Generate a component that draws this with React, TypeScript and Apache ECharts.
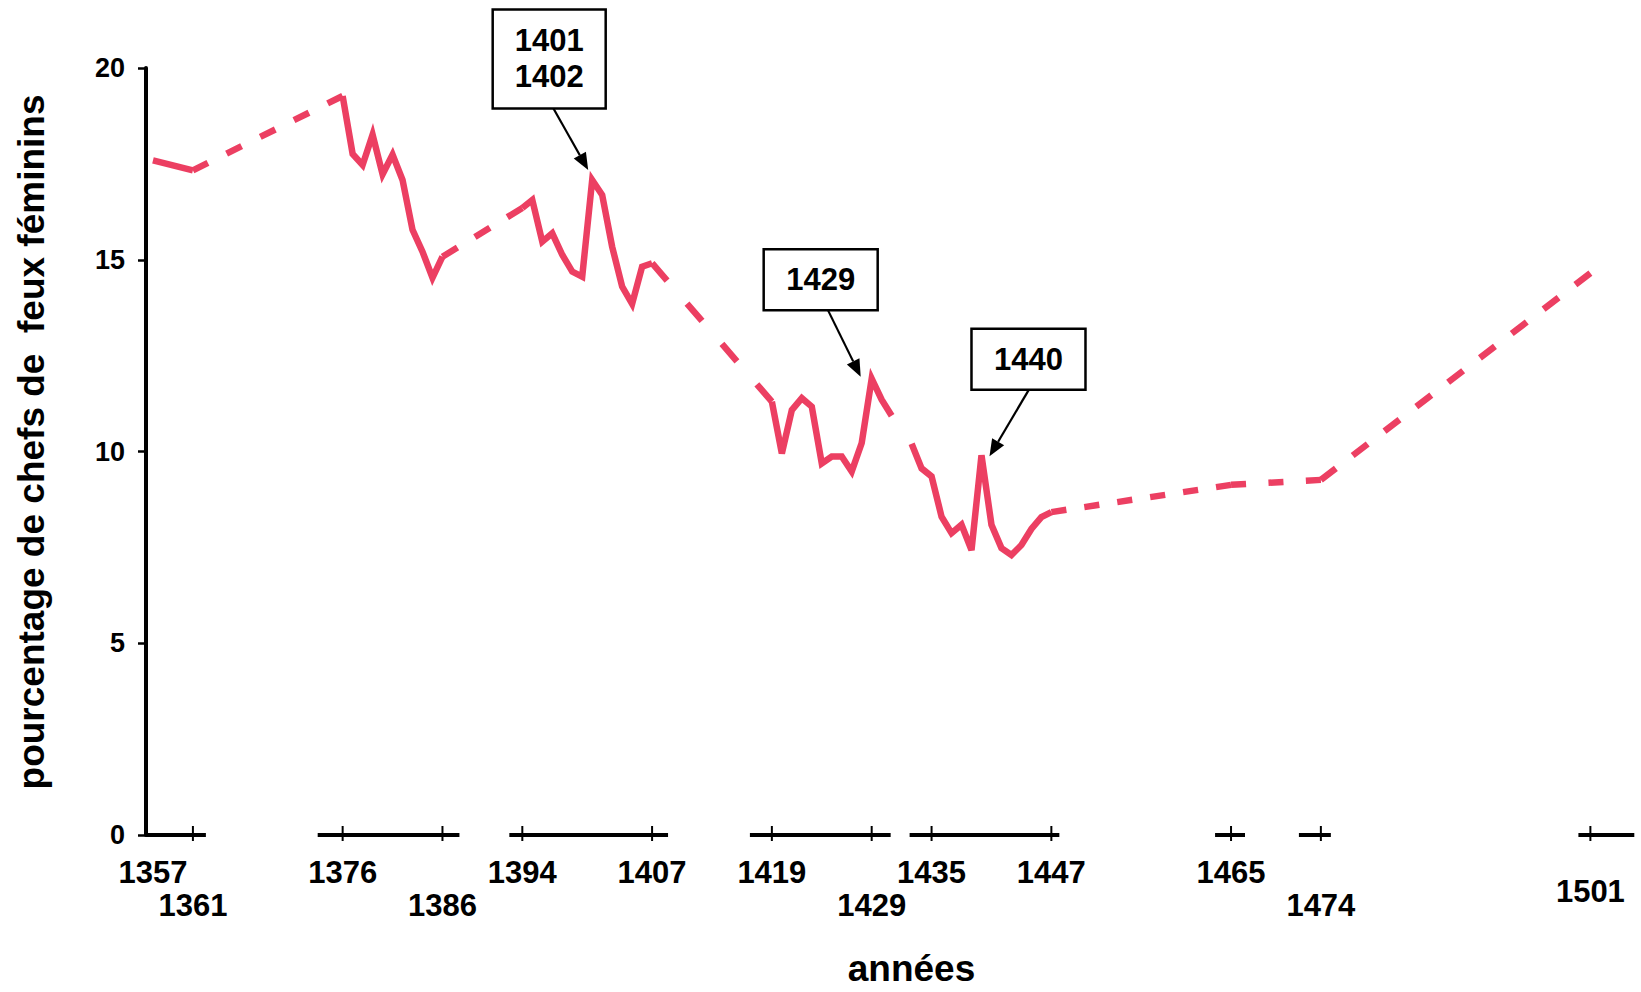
import React, { useEffect, useRef } from "react";
import * as echarts from "echarts";

// ---- data ----
const years1 = [1357, 1361];
const pct1 = [17.59, 17.33];
const years2 = [1376, 1377, 1378, 1379, 1380, 1381, 1382, 1383, 1384, 1385, 1386];
const pct2 = [19.27, 17.76, 17.47, 18.26, 17.23, 17.74, 17.08, 15.78, 15.21, 14.53, 15.08];
const years3 = [1394, 1395, 1396, 1397, 1398, 1399, 1400, 1401, 1402, 1403, 1404, 1405, 1406, 1407];
const pct3 = [16.35, 16.56, 15.47, 15.69, 15.13, 14.69, 14.56, 17.08, 16.69, 15.34, 14.3, 13.85, 14.82, 14.91];
const years4 = [1419, 1420, 1421, 1422, 1423, 1424, 1425, 1426, 1427, 1428, 1429, 1430, 1431];
const pct4 = [11.3, 9.95, 11.08, 11.39, 11.17, 9.69, 9.87, 9.87, 9.48, 10.22, 11.9, 11.35, 10.93];
const years5 = [1433, 1434, 1435, 1436, 1437, 1438, 1439, 1440, 1441, 1442, 1443, 1444, 1445, 1446, 1447];
const pct5 = [10.2, 9.56, 9.35, 8.3, 7.87, 8.09, 7.43, 9.9, 8.09, 7.48, 7.3, 7.56, 7.98, 8.29, 8.42];
const yearsLate = [1465, 1474, 1501];
const pctLate = [9.13, 9.26, 14.65];

// links drawn dashed (years with missing records in between)
const dashedLinks = [
  [1361, 1376],
  [1386, 1394],
  [1407, 1419],
  [1447, 1465],
  [1465, 1474],
  [1474, 1501],
];

// x axis: labelled years, their row, tick marks, broken axis segments
const tickLabelYears = [1357, 1361, 1376, 1386, 1394, 1407, 1419, 1429, 1435, 1447, 1465, 1474, 1501];
const tickLabelRows = [0, 1, 0, 1, 0, 0, 0, 1, 0, 0, 0, 1, 2];
const tickMarkYears = [1361, 1376, 1386, 1394, 1407, 1419, 1429, 1435, 1447, 1465, 1474, 1501];
const axisSegments = [
  [1356.3, 1362.3],
  [1373.5, 1387.7],
  [1392.7, 1408.6],
  [1416.8, 1430.9],
  [1432.8, 1447.8],
  [1463.4, 1466.4],
  [1471.8, 1475.0],
  [1499.8, 1505.4],
];

// annotations
const annotYears = [1401, 1429, 1440];
const annotLabels = ["1401\n1402", "1429", "1440"];

const yTicks = [0, 5, 10, 15, 20];
const yTitle = "pourcentage de chefs de  feux féminins";
const xTitle = "années";

// ---- layout / style (not data) ----
const FONT = "'Liberation Sans', Arial, Helvetica, sans-serif";
const LINE_COLOR = "#EC3F62";
const LINE_W = 6.5;
const rowOffsets = [37, 70, 56];
const DASH_X = 15; // dash length, projected on x
const PERIOD_X = 32; // dash period, projected on x
const annotLayout = [
  { box: [-43, -121], w: 113, h: 99, from: [-39, -72], tip: [-4, -10] },
  { box: [-51, -99], w: 114, h: 61, from: [-44, -69], tip: [-11, -2] },
  { box: [47, -96], w: 114, h: 61, from: [47, -65], tip: [8, 1] },
];

const allYears = [...years1, ...years2, ...years3, ...years4, ...years5, ...yearsLate];
const allPct = [...pct1, ...pct2, ...pct3, ...pct4, ...pct5, ...pctLate];
const valueOf = (y: number) => allPct[allYears.indexOf(y)];

function buildSeries(dashPatterns: number[][]) {
  const solidRuns = [
    [years1, pct1],
    [years2, pct2],
    [years3, pct3],
    [years4, pct4],
    [years5, pct5],
  ];
  const series: any[] = [];
  solidRuns.forEach(([ys, ps]) => {
    series.push({
      type: "line",
      data: (ys as number[]).map((y, i) => [y, (ps as number[])[i]]),
      showSymbol: false,
      symbol: "none",
      silent: true,
      z: 3,
      lineStyle: { color: LINE_COLOR, width: LINE_W, join: "miter", miterLimit: 10, cap: "butt" },
    });
  });
  dashedLinks.forEach(([a, b], i) => {
    series.push({
      type: "line",
      data: [
        [a, valueOf(a)],
        [b, valueOf(b)],
      ],
      showSymbol: false,
      symbol: "none",
      silent: true,
      z: 3,
      lineStyle: {
        color: LINE_COLOR,
        width: LINE_W,
        type: dashPatterns[i] || [17, 19],
        cap: "butt",
      },
    });
  });

  // broken x axis segments
  series.push({
    type: "custom",
    silent: true,
    z: 2,
    data: axisSegments.map((s) => [s[0], s[1]]),
    renderItem: (params: any, api: any) => {
      const p1 = api.coord([api.value(0), 0]);
      const p2 = api.coord([api.value(1), 0]);
      return {
        type: "line",
        shape: { x1: p1[0], y1: p1[1], x2: p2[0], y2: p2[1] },
        style: { stroke: "#000", lineWidth: 4 },
      };
    },
  });
  // tick marks
  series.push({
    type: "custom",
    silent: true,
    z: 2,
    data: tickMarkYears.map((y) => [y, 0]),
    renderItem: (params: any, api: any) => {
      const p = api.coord([api.value(0), 0]);
      return {
        type: "line",
        shape: { x1: p[0], y1: p[1] - 9, x2: p[0], y2: p[1] + 6 },
        style: { stroke: "#000", lineWidth: 2 },
      };
    },
  });
  // tick labels
  series.push({
    type: "custom",
    silent: true,
    z: 2,
    data: tickLabelYears.map((y, i) => [y, 0, tickLabelRows[i]]),
    renderItem: (params: any, api: any) => {
      const p = api.coord([api.value(0), 0]);
      const row = api.value(2);
      return {
        type: "text",
        x: p[0],
        y: p[1] + rowOffsets[row],
        style: {
          text: String(api.value(0)),
          align: "center",
          verticalAlign: "middle",
          fontSize: 31,
          fontWeight: "bold",
          fontFamily: FONT,
          fill: "#000",
        },
      };
    },
  });
  // annotations
  series.push({
    type: "custom",
    silent: true,
    z: 5,
    data: annotYears.map((y) => [y, valueOf(y)]),
    renderItem: (params: any, api: any) => {
      const i = params.dataIndex;
      const p = api.coord([api.value(0), api.value(1)]);
      const L = annotLayout[i];
      const cx = p[0] + L.box[0];
      const cy = p[1] + L.box[1];
      const sx = p[0] + L.from[0];
      const sy = p[1] + L.from[1];
      const tx = p[0] + L.tip[0];
      const ty = p[1] + L.tip[1];
      const ang = Math.atan2(ty - sy, tx - sx);
      const ah = 17;
      const aw = 7;
      const bx = tx - ah * Math.cos(ang);
      const by = ty - ah * Math.sin(ang);
      const nx = -Math.sin(ang);
      const ny = Math.cos(ang);
      return {
        type: "group",
        children: [
          {
            type: "line",
            shape: { x1: sx, y1: sy, x2: bx, y2: by },
            style: { stroke: "#000", lineWidth: 2.2 },
          },
          {
            type: "polygon",
            shape: {
              points: [
                [tx, ty],
                [bx + nx * aw, by + ny * aw],
                [bx - nx * aw, by - ny * aw],
              ],
            },
            style: { fill: "#000" },
          },
          {
            type: "rect",
            shape: { x: cx - L.w / 2, y: cy - L.h / 2, width: L.w, height: L.h },
            style: { fill: "#fff", stroke: "#000", lineWidth: 2.5 },
          },
          {
            type: "text",
            x: cx,
            y: cy,
            style: {
              text: annotLabels[i],
              align: "center",
              verticalAlign: "middle",
              fontSize: 31,
              fontWeight: "bold",
              fontFamily: FONT,
              lineHeight: 36,
              fill: "#000",
            },
          },
        ],
      };
    },
  });
  return series;
}

const baseOption = {
  animation: false,
  backgroundColor: "#fff",
  grid: {
    left: 146,
    right: 6,
    top: 68,
    bottom: 157,
    containLabel: false,
    outerBoundsMode: "none",
  },
  xAxis: {
    type: "value",
    min: 1356.3,
    max: 1505.47,
    axisLine: { show: false },
    axisTick: { show: false },
    axisLabel: { show: false },
    splitLine: { show: false },
    name: xTitle,
    nameLocation: "middle",
    nameGap: 114,
    nameTextStyle: {
      fontSize: 37,
      lineHeight: 38,
      fontWeight: "bold",
      fontFamily: FONT,
      color: "#000",
      padding: [0, 0, 0, 42],
    },
  },
  yAxis: {
    type: "value",
    min: yTicks[0],
    max: yTicks[yTicks.length - 1],
    interval: 5,
    axisLine: { show: true, lineStyle: { color: "#000", width: 4 } },
    axisTick: { show: true, length: 8, lineStyle: { color: "#000", width: 2.5 } },
    axisLabel: {
      fontSize: 27,
      fontWeight: "bold",
      fontFamily: FONT,
      color: "#000",
      margin: 21,
    },
    splitLine: { show: false },
    name: yTitle,
    nameLocation: "middle",
    nameGap: 96,
    nameRotate: 90,
    nameTextStyle: {
      fontSize: 37,
      fontWeight: "bold",
      fontFamily: FONT,
      color: "#000",
      padding: [0, 0, 0, 19],
    },
  },
};

export default function App() {
  const ref = useRef<HTMLDivElement>(null);

  useEffect(() => {
    document.body.style.margin = "0";
    if (!ref.current) return;
    const chart = echarts.init(ref.current, undefined, { renderer: "svg" });
    chart.setOption({ ...baseOption, series: buildSeries([]) });

    // dash pattern per link: starts and ends with a dash, ~constant along x
    const patterns = dashedLinks.map(([a, b]) => {
      const p1 = chart.convertToPixel({ gridIndex: 0 }, [a, valueOf(a)]) as number[];
      const p2 = chart.convertToPixel({ gridIndex: 0 }, [b, valueOf(b)]) as number[];
      const dx = Math.abs(p2[0] - p1[0]);
      const len = Math.hypot(p2[0] - p1[0], p2[1] - p1[1]);
      const k = len / dx;
      const n = Math.max(1, Math.round((dx - DASH_X) / PERIOD_X));
      const period = (dx - DASH_X) / n;
      return [DASH_X * k, (period - DASH_X) * k];
    });
    chart.setOption({ ...baseOption, series: buildSeries(patterns) }, { notMerge: true });

    return () => {
      chart.dispose();
    };
  }, []);

  return <div ref={ref} style={{ width: 1641, height: 992 }} />;
}
